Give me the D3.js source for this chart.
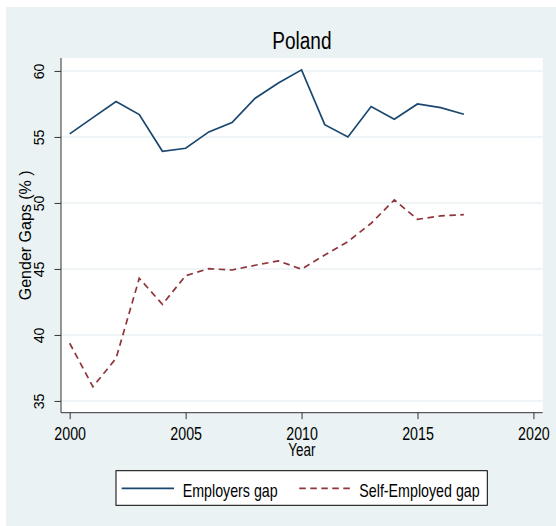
<!DOCTYPE html>
<html>
<head>
<meta charset="utf-8">
<script src="https://cdn.jsdelivr.net/npm/d3@7"></script>
<style>
  body { margin: 0; background: #fff; }
  text { font-family: "Liberation Sans", Arial, sans-serif; fill: #000; }
</style>
</head>
<body>
<div id="chart"></div>
<script>
const years = d3.range(2000, 2018);
const employersGap = [55.23, 56.46, 57.68, 56.69, 53.91, 54.14, 55.38, 56.09, 57.93, 59.09,
  60.08, 55.93, 55.0, 57.3, 56.34, 57.5, 57.22, 56.72];
const selfEmployedGap = [39.37, 36.08, 38.23, 44.29, 42.32, 44.49, 45.02, 44.92, 45.28, 45.61,
  44.98, 46.06, 47.07, 48.46, 50.23, 48.76, 49.02, 49.11];
const xTicks = [2000, 2005, 2010, 2015, 2020];
const yTicks = [35, 40, 45, 50, 55, 60];
const seriesNames = ['Employers gap', 'Self-Employed gap'];

const W = 556, H = 526;
const bg = '#eaf2f3';
const plot = { left: 61, right: 542.7, top: 58, bottom: 412.7 };

// the reference uses a narrow face; squeeze regular text along its length
function squeeze(sel, k) {
  sel.each(function () {
    const len = this.getComputedTextLength();
    d3.select(this)
      .attr('textLength', len * k)
      .attr('lengthAdjust', 'spacingAndGlyphs');
  });
}

const svg = d3.select('#chart').append('svg')
  .attr('width', W)
  .attr('height', H);

// outer graph region
svg.append('rect').attr('width', W).attr('height', H).attr('fill', '#fff');
svg.append('rect').attr('x', 6).attr('y', 7).attr('width', W - 6).attr('height', H - 7).attr('fill', bg);

// plot region
svg.append('rect')
  .attr('x', plot.left).attr('y', plot.top)
  .attr('width', plot.right - plot.left).attr('height', plot.bottom - plot.top)
  .attr('fill', '#fff');

const x = d3.scaleLinear().domain([1999.625, 2020.4]).range([plot.left, plot.right]);
const y = d3.scaleLinear().domain([34.11, 60.98]).range([plot.bottom, plot.top]);

// gridlines
svg.append('g').selectAll('line')
  .data(yTicks)
  .join('line')
  .attr('x1', plot.left).attr('x2', plot.right)
  .attr('y1', (d) => y(d)).attr('y2', (d) => y(d))
  .attr('stroke', bg)
  .attr('stroke-width', 1.6);

// axes
const yAxis = svg.append('g')
  .attr('transform', 'translate(' + plot.left + ',0)')
  .call(d3.axisLeft(y).tickValues(yTicks).tickSize(6.5).tickSizeOuter(0));
yAxis.selectAll('text')
  .attr('x', 0).attr('y', -17).attr('dy', 0)
  .attr('transform', 'rotate(-90)')
  .attr('text-anchor', 'middle')
  .style('font-size', '15.5px')
  .call(squeeze, 0.92);

const xAxis = svg.append('g')
  .attr('transform', 'translate(0,' + plot.bottom + ')')
  .call(d3.axisBottom(x).tickValues(xTicks).tickFormat(d3.format('d')).tickSize(6.5).tickSizeOuter(0));
xAxis.selectAll('text')
  .attr('y', 27.3).attr('dy', 0)
  .style('font-size', '18.5px')
  .call(squeeze, 0.77);

svg.selectAll('.domain').attr('stroke', '#333');
svg.selectAll('.tick line').attr('stroke', '#333');
svg.selectAll('.tick text').attr('fill', '#000');

// domain paths only cover the scale range; stretch to the full plot edges
yAxis.select('.domain').attr('d', 'M0,' + plot.top + 'V' + plot.bottom);
xAxis.select('.domain').attr('d', 'M' + plot.left + ',0H' + plot.right);

// lines
const line = (vals) => d3.line()
  .x((d, i) => x(years[i]))
  .y((d) => y(d))(vals);

svg.append('path')
  .attr('d', line(employersGap))
  .attr('fill', 'none')
  .attr('stroke', '#1a476f')
  .attr('stroke-width', 1.7);

svg.append('path')
  .attr('d', line(selfEmployedGap))
  .attr('fill', 'none')
  .attr('stroke', '#90353b')
  .attr('stroke-width', 1.7)
  .attr('stroke-dasharray', '6.5,4.5');

// titles
const cx = (plot.left + plot.right) / 2;
svg.append('text')
  .attr('x', cx).attr('y', 49.3)
  .attr('text-anchor', 'middle')
  .style('font-size', '23.5px')
  .attr('fill', '#1e2d53')
  .text('Poland')
  .call(squeeze, 0.81);

svg.append('text')
  .attr('x', cx).attr('y', 456.3)
  .attr('text-anchor', 'middle')
  .style('font-size', '17.5px')
  .text('Year')
  .call(squeeze, 0.77);

svg.append('text')
  .attr('transform', 'translate(31,' + ((plot.top + plot.bottom) / 2) + ') rotate(-90)')
  .attr('text-anchor', 'middle')
  .style('font-size', '16px')
  .text('Gender Gaps (% )')
  .call(squeeze, 1.0);

// legend
const legend = svg.append('g');
legend.append('rect')
  .attr('x', 116).attr('y', 470.7)
  .attr('width', 371.3).attr('height', 34.6)
  .attr('fill', '#fff')
  .attr('stroke', '#000')
  .attr('stroke-width', 1);

const legendItems = [
  { name: seriesNames[0], color: '#1a476f', dash: null, x0: 121.7, x1: 174, tx: 182.7 },
  { name: seriesNames[1], color: '#90353b', dash: '6.5,4.5', x0: 299.3, x1: 351.7, tx: 359.3 }
];
legendItems.forEach((d) => {
  legend.append('line')
    .attr('x1', d.x0).attr('x2', d.x1)
    .attr('y1', 488.3).attr('y2', 488.3)
    .attr('stroke', d.color)
    .attr('stroke-width', 1.7)
    .attr('stroke-dasharray', d.dash);
  legend.append('text')
    .attr('x', d.tx).attr('y', 496.5)
    .style('font-size', '18.5px')
    .text(d.name)
    .call(squeeze, 0.77);
});
</script>
</body>
</html>
